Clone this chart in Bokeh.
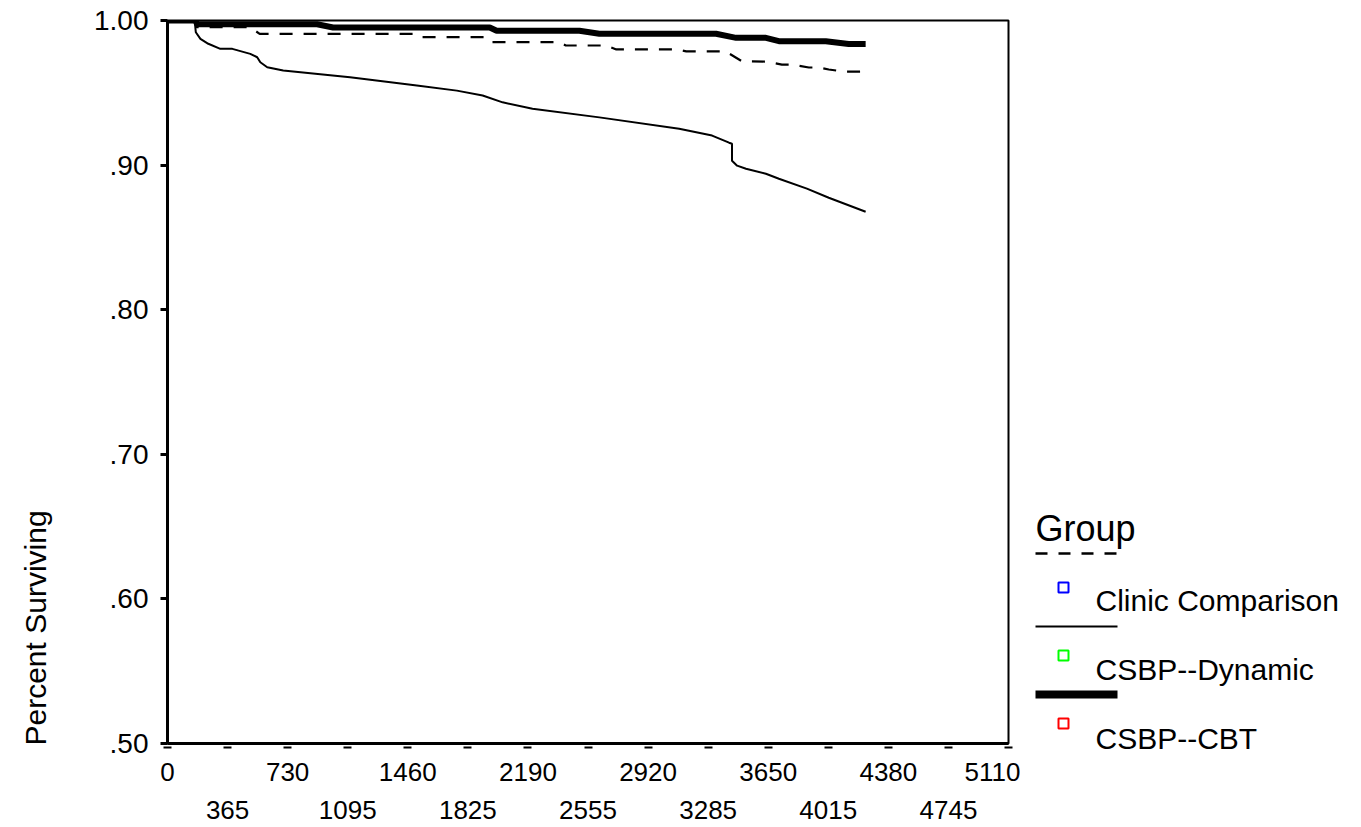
import math
from bokeh.plotting import figure
from bokeh.models import Range1d, FixedTicker, LinearAxis
from bokeh.layouts import row
from bokeh.core.properties import value
from bokeh.embed import file_html
from bokeh.resources import INLINE

# ---------------- data ----------------
groups = ["Clinic Comparison", "CSBP--Dynamic", "CSBP--CBT"]
group_marker_colors = ["#0000ff", "#00ff00", "#ff0000"]

comp_days = [0, 170, 175, 500, 560, 1490, 1520, 1939, 1970, 2382, 2420, 2667, 2727,
             3097, 3152, 3390, 3490, 3636, 3733, 3794, 3897, 3958, 4018, 4109, 4242]
comp_surv = [1.0, 1.0, 0.9954, 0.9954, 0.9908, 0.9908, 0.9885, 0.9885, 0.9850, 0.9850,
             0.9827, 0.9827, 0.9800, 0.9800, 0.9787, 0.9787, 0.9718, 0.9716, 0.9695,
             0.9695, 0.9675, 0.9675, 0.9661, 0.9647, 0.9647]

dyn_days = [0, 165, 172, 200, 248, 321, 394, 503, 545, 564, 606, 703, 1109, 1515, 1758,
            1915, 2036, 2218, 2624, 3109, 3309, 3412, 3430, 3430, 3461, 3515, 3636, 3715,
            3885, 4018, 4242]
dyn_surv = [1.0, 1.0, 0.9919, 0.9873, 0.9839, 0.9804, 0.9804, 0.9769, 0.9746, 0.9711,
            0.9677, 0.9654, 0.9607, 0.9550, 0.9515, 0.9481, 0.9434, 0.9389, 0.9330,
            0.9252, 0.9204, 0.9155, 0.9148, 0.9030, 0.8996, 0.8975, 0.8940, 0.8906,
            0.8837, 0.8774, 0.8677]

cbt_days = [0, 170, 180, 909, 1006, 1958, 2000, 2503, 2624, 3333, 3455, 3636, 3715, 4000,
            4139, 4242]
cbt_surv = [1.0, 1.0, 0.9974, 0.9974, 0.9952, 0.9952, 0.9929, 0.9929, 0.9908, 0.9908,
            0.9880, 0.9880, 0.9857, 0.9857, 0.9838, 0.9838]

x_ticks = [0, 365, 730, 1095, 1460, 1825, 2190, 2555, 2920, 3285, 3650, 4015, 4380, 4745, 5110]
x_ticks_row1 = [0, 730, 1460, 2190, 2920, 3650, 4380, 5110]
x_ticks_row2 = [365, 1095, 1825, 2555, 3285, 4015, 4745]
y_ticks = [0.5, 0.6, 0.7, 0.8, 0.9, 1.0]
y_tick_labels = [".50", ".60", ".70", ".80", ".90", "1.00"]
y_title = "Percent Surviving"
legend_title = "Group"

FONT = "Liberation Sans"
H = 826
TOP = 20
FRAME_H = 723
SIDE_H = H - TOP

# ---------------- left strip holding the rotated y title (page-pixel coords) ----------------
TW = 80
ttl = figure(frame_width=TW, frame_height=SIDE_H, output_backend="svg",
             toolbar_location=None, title=None,
             x_range=Range1d(0, TW), y_range=Range1d(TOP + SIDE_H, TOP),
             x_axis_location=None, y_axis_location=None,
             min_border=0, min_border_left=0, min_border_right=0,
             min_border_top=TOP, min_border_bottom=0)
ttl.grid.visible = False
ttl.outline_line_color = None
ttl.text(x=[35], y=[745], text=[y_title], angle=math.pi / 2, text_align="left",
         text_baseline="middle", text_font=value(FONT), text_font_size="30px",
         text_color="black")

# ---------------- main plot ----------------
p = figure(width=1020 - TW, height=H, output_backend="svg", toolbar_location=None,
           x_range=Range1d(0, 5110), y_range=Range1d(0.5, 1.0), title=None,
           min_border_left=167 - TW, min_border_top=TOP, min_border_right=12,
           min_border_bottom=H - TOP - FRAME_H, background_fill_color="white",
           border_fill_color="white")
p.grid.visible = False
p.outline_line_color = "black"
p.outline_line_width = 2

# y axis
ya = p.yaxis[0]
ya.ticker = FixedTicker(ticks=y_ticks)
ya.major_label_overrides = {t: l for t, l in zip(y_ticks, y_tick_labels)}
ya.minor_tick_line_color = None
ya.major_tick_in = 0
ya.major_tick_out = 7
ya.major_tick_line_width = 3
ya.axis_line_width = 3
ya.major_label_standoff = 12
ya.major_label_text_font = FONT
ya.major_label_text_font_size = "28px"
ya.major_label_text_color = "black"

# x axis, row 1 (with dash ticks)
xa = p.xaxis[0]
xa.ticker = FixedTicker(ticks=x_ticks)
xa.major_label_overrides = {t: (str(t) if t in x_ticks_row1 else "") for t in x_ticks}
xa.minor_tick_line_color = None
xa.major_tick_in = -3
xa.major_tick_out = 5
xa.major_tick_line_width = 8
xa.major_tick_line_cap = "butt"
xa.axis_line_width = 3
xa.major_label_standoff = 14
xa.major_label_text_font = FONT
xa.major_label_text_font_size = "26px"
xa.major_label_text_color = "black"

# x axis, row 2 (labels only)
xa2 = LinearAxis(ticker=FixedTicker(ticks=x_ticks_row2))
xa2.axis_line_color = None
xa2.major_tick_line_color = None
xa2.minor_tick_line_color = None
xa2.major_tick_in = 0
xa2.major_tick_out = 0
xa2.major_label_standoff = 17
xa2.major_label_text_font = FONT
xa2.major_label_text_font_size = "26px"
xa2.major_label_text_color = "black"
p.add_layout(xa2, "below")

p.line(comp_days, comp_surv, line_color="black", line_width=2.2, line_dash="13 11")
p.line(dyn_days, dyn_surv, line_color="black", line_width=2)
p.line(cbt_days, cbt_surv, line_color="black", line_width=6)

# ---------------- legend panel (page-pixel coordinates) ----------------
LX0 = 1020
LW = 338
leg = figure(frame_width=LW, frame_height=SIDE_H, output_backend="svg",
             toolbar_location=None, title=None,
             x_range=Range1d(LX0, LX0 + LW), y_range=Range1d(TOP + SIDE_H, TOP),
             x_axis_location=None, y_axis_location=None,
             min_border=0, min_border_left=0, min_border_right=0,
             min_border_top=TOP, min_border_bottom=0)
leg.grid.visible = False
leg.outline_line_color = None

leg.text(x=[1035], y=[528], text=[legend_title], text_font=value(FONT),
         text_font_size="36px", text_baseline="alphabetic", text_color="black")

sample_y = [553, 626, 694]
sample_w = [2.5, 2, 8]
sample_dash = ["12 11", "solid", "solid"]
square_y = [587, 655, 723]
text_y = [600, 669, 738]
for i in range(3):
    leg.line([1035, 1117], [sample_y[i]] * 2, line_color="black",
             line_width=sample_w[i], line_dash=sample_dash[i], line_cap="butt")
leg.scatter(x=[1063] * 3, y=square_y, marker="square", size=10, fill_color=None,
            line_color=group_marker_colors, line_width=2)
leg.text(x=[1095] * 3, y=text_y, text=groups, text_font=value(FONT),
         text_font_size="30px", text_baseline="alphabetic", text_color="black")

layout = row(ttl, p, leg)
open("out.html", "w").write(file_html(layout, INLINE))
